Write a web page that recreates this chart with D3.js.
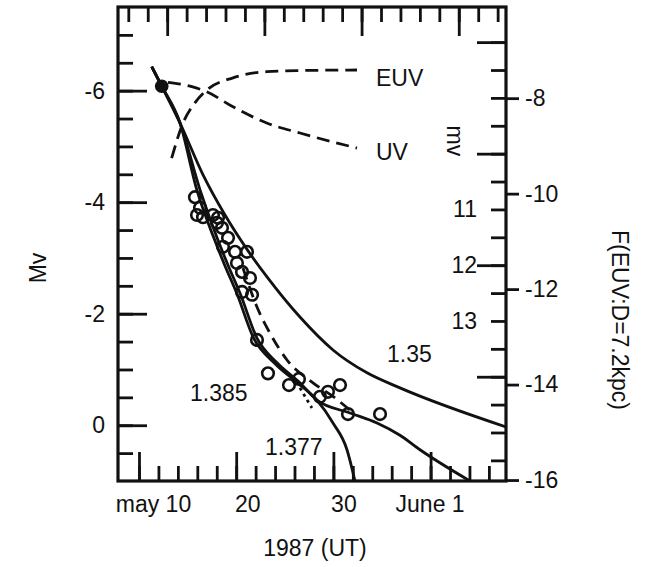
<!DOCTYPE html>
<html>
<head>
<meta charset="utf-8">
<script src="https://cdn.jsdelivr.net/npm/d3@7"></script>
<style>
  body { margin: 0; background: #fff; }
  text { font-family: "Liberation Sans", Arial, Helvetica, sans-serif; fill: #111; }
</style>
</head>
<body>
<div id="chart"></div>
<script>
// observed V magnitudes (open circles), day of May 1987
var obsDay = [15.76, 16.28, 15.97, 16.59, 17.61, 18.13, 18.03, 18.54, 19.16, 18.64, 21.11, 19.88, 20.08,
  20.60, 21.42, 20.60, 21.63, 22.14, 23.27, 25.43, 26.46, 28.62, 29.44, 30.68, 31.50, 34.80];
var obsMv = [-4.09, -3.90, -3.77, -3.73, -3.77, -3.72, -3.63, -3.54, -3.36, -3.20, -3.11, -3.11, -2.91,
  -2.75, -2.64, -2.39, -2.34, -1.53, -0.93, -0.72, -0.83, -0.51, -0.60, -0.72, -0.20, -0.20];

// peak (filled dot)
var peakDay = [12.34];
var peakMv = [-6.08];

// model light curves, labelled by white dwarf mass
var m135Day = [11.31, 12.34, 14.22, 16.59, 18.85, 21.01, 23.17, 26.56, 29.96, 33.46, 36.85, 47.76];
var m135Mv = [-6.43, -6.08, -5.42, -4.49, -3.77, -3.18, -2.66, -1.94, -1.35, -0.94, -0.67, 0.03];

var m1385Day = [11.31, 12.34, 14.22, 16.28, 18.03, 19.16, 20.39, 22.14, 24.20, 26.56, 28.31, 31.71, 34.49, 36.85, 38.91, 44.05];
var m1385Mv = [-6.43, -6.08, -5.42, -4.22, -3.36, -2.87, -2.37, -1.56, -1.12, -0.76, -0.45, -0.22, -0.04, 0.18, 0.44, 1.0];

var m1377Day = [11.31, 12.34, 14.22, 15.95, 17.70, 18.82, 20.05, 21.80, 23.90, 26.30, 28.31, 29.96, 31.40, 32.22];
var m1377Mv = [-6.43, -6.08, -5.42, -4.22, -3.36, -2.87, -2.37, -1.56, -1.12, -0.76, -0.45, -0.04, 0.44, 1.0];

var dashDay = [20.70, 22.14, 23.48, 25.23, 27.90, 30.17, 31.71];
var dashMv = [-2.82, -2.12, -1.65, -1.17, -0.76, -0.49, -0.27];

var dotDay = [26.56, 27.79];
var dotMv = [-0.67, -0.31];

// EUV and UV model fluxes
var euvDay = [13.36, 14.53, 15.66, 16.97, 19.67, 23.14, 26.56, 32.43];
var euvMv = [-4.79, -5.42, -5.76, -6.01, -6.23, -6.34, -6.36, -6.37];
var uvDay = [12.98, 15.25, 16.97, 19.67, 23.14, 26.56, 32.43];
var uvMv = [-6.15, -6.08, -5.98, -5.71, -5.42, -5.24, -4.97];

// curve labels
var noteText = ["EUV", "UV", "1.35", "1.385", "1.377"];
var noteDay = [34.38, 34.38, 35.52, 15.25, 22.96];
var noteMv = [-6.08, -4.76, -1.13, -0.43, 0.53];

// axes
var xTickDays = [10, 20, 30, 40];
var xTickLabels = ["may 10", "20", "30", "June 1"];
var topMajorDays = [12.9, 22.9, 32.9, 42.9];
var mvMajor = [-6, -4, -2, 0];
var appLabels = [11, 12, 13];
var appMajor = [8, 10, 12, 14];
var fluxTicks = [-8, -10, -12, -14, -16];
var distMod = 14.87;

var W = 652, H = 567,
  x0 = 118, x1 = 506, y0 = 7, y1 = 481,
  fs = 23;

var svg = d3.select("#chart").append("svg").attr("width", W).attr("height", H);

var x = d3.scaleLinear().domain([7.84, 47.76]).range([x0, x1]);
var y = d3.scaleLinear().domain([-7.5, 1.0]).range([y0, y1]);
var yApp = d3.scaleLinear().domain([-7.5 + distMod, 1.0 + distMod]).range([y0, y1]);
var yF = d3.scaleLinear().domain([-6.09, -16.02]).range([y0, y1]);

function styleAxis(g) {
  g.select(".domain").remove();
  g.selectAll("line").attr("stroke", "#111").attr("stroke-width", 2.8);
  g.selectAll("text").attr("font-size", fs).attr("font-family", '"Liberation Sans", Arial, sans-serif').attr("fill", "#111");
}

// left axis
svg.append("g").attr("transform", "translate(" + x0 + ",0)")
  .call(d3.axisLeft(y).tickValues(d3.range(-7, 1, 0.5)).tickSize(-15).tickFormat(""))
  .call(styleAxis);
svg.append("g").attr("transform", "translate(" + x0 + ",0)")
  .call(d3.axisLeft(y).tickValues(mvMajor).tickSize(-29).tickPadding(13).tickFormat(function (d) { return String(d); }))
  .call(styleAxis);

// bottom axis
svg.append("g").attr("transform", "translate(0," + y1 + ")")
  .call(d3.axisBottom(x).tickValues(d3.range(10, 47, 2)).tickSize(-15).tickFormat(""))
  .call(styleAxis);
var labelDx = [14, 11, 10, -1];
var xb = svg.append("g").attr("transform", "translate(0," + y1 + ")")
  .call(d3.axisBottom(x).tickValues(xTickDays).tickSize(-29).tickPadding(15)
    .tickFormat(function (d, i) { return xTickLabels[i]; }))
  .call(styleAxis);
xb.selectAll("text").attr("dx", function (d, i) { return labelDx[i]; });

// top axis (shifted ticks)
svg.append("g").attr("transform", "translate(0," + y0 + ")")
  .call(d3.axisTop(x).tickValues(d3.range(8.9, 47.8, 2)).tickSize(-15).tickFormat(""))
  .call(styleAxis);
svg.append("g").attr("transform", "translate(0," + y0 + ")")
  .call(d3.axisTop(x).tickValues(topMajorDays).tickSize(-29).tickFormat(""))
  .call(styleAxis);

// right axis, inside: apparent magnitude
svg.append("g").attr("transform", "translate(" + x1 + ",0)")
  .call(d3.axisLeft(yApp).tickValues(d3.range(8, 16, 0.5)).tickSize(15).tickFormat(""))
  .call(styleAxis);
svg.append("g").attr("transform", "translate(" + x1 + ",0)")
  .call(d3.axisLeft(yApp).tickValues(appMajor).tickSize(29).tickFormat(""))
  .call(styleAxis);
svg.append("g").attr("transform", "translate(" + x1 + ",0)")
  .call(d3.axisLeft(yApp).tickValues(appLabels).tickSize(0).tickPadding(29).tickFormat(function (d) { return String(d); }))
  .call(styleAxis);

// right axis, outside: EUV flux
svg.append("g").attr("transform", "translate(" + x1 + ",0)")
  .call(d3.axisRight(yF).tickValues(fluxTicks).tickSize(13).tickPadding(6).tickFormat(function (d) { return String(d); }))
  .call(styleAxis);

// frame
svg.append("rect")
  .attr("x", x0).attr("y", y0)
  .attr("width", x1 - x0).attr("height", y1 - y0)
  .attr("fill", "none").attr("stroke", "#111").attr("stroke-width", 3.2);

svg.append("clipPath").attr("id", "clip")
  .append("rect").attr("x", x0).attr("y", y0).attr("width", x1 - x0).attr("height", y1 - y0);

var plot = svg.append("g").attr("clip-path", "url(#clip)");

function pts(days, mags) {
  return days.map(function (d, i) { return [d, mags[i]]; });
}

var line = d3.line()
  .x(function (d) { return x(d[0]); })
  .y(function (d) { return y(d[1]); })
  .curve(d3.curveMonotoneX);

function drawCurve(data, dash) {
  plot.append("path")
    .datum(data)
    .attr("d", line)
    .attr("fill", "none")
    .attr("stroke", "#111")
    .attr("stroke-width", 2.8)
    .attr("stroke-dasharray", dash || null);
}

drawCurve(pts(m135Day, m135Mv));
drawCurve(pts(m1385Day, m1385Mv));
drawCurve(pts(m1377Day, m1377Mv));
drawCurve(pts(dashDay, dashMv), "12,7");
drawCurve(pts(dotDay, dotMv), "3,4");
drawCurve(pts(euvDay, euvMv), "13,7");
drawCurve(pts(uvDay, uvMv), "13,7");

plot.selectAll(".obs")
  .data(pts(obsDay, obsMv))
  .enter().append("circle")
  .attr("class", "obs")
  .attr("cx", function (d) { return x(d[0]); })
  .attr("cy", function (d) { return y(d[1]); })
  .attr("r", 5.8)
  .attr("fill", "none")
  .attr("stroke", "#111")
  .attr("stroke-width", 2.6);

plot.selectAll(".peak")
  .data(pts(peakDay, peakMv))
  .enter().append("circle")
  .attr("class", "peak")
  .attr("cx", function (d) { return x(d[0]); })
  .attr("cy", function (d) { return y(d[1]); })
  .attr("r", 6.8)
  .attr("fill", "#111");

svg.selectAll(".note")
  .data(noteText)
  .enter().append("text")
  .attr("class", "note")
  .attr("x", function (d, i) { return x(noteDay[i]); })
  .attr("y", function (d, i) { return y(noteMv[i]); })
  .attr("font-size", fs)
  .text(function (d) { return d; });

// axis titles
svg.append("text")
  .attr("transform", "translate(38," + ((y0 + y1) / 2 + 24) + ") rotate(-90)")
  .attr("text-anchor", "middle").attr("dy", "0.35em")
  .attr("font-size", fs)
  .text("Mv");

svg.append("text")
  .attr("transform", "translate(455," + y(-5.1) + ") rotate(90)")
  .attr("text-anchor", "middle").attr("dy", "0.35em")
  .attr("font-size", fs)
  .text("mv");

svg.append("text")
  .attr("transform", "translate(620," + ((y0 + y1) / 2 + 76) + ") rotate(90)")
  .attr("text-anchor", "middle").attr("dy", "0.35em")
  .attr("font-size", fs)
  .text("F(EUV:D=7.2kpc)");

svg.append("text")
  .attr("x", (x0 + x1) / 2 + 3)
  .attr("y", 556)
  .attr("text-anchor", "middle")
  .attr("font-size", fs)
  .text("1987 (UT)");
</script>
</body>
</html>
